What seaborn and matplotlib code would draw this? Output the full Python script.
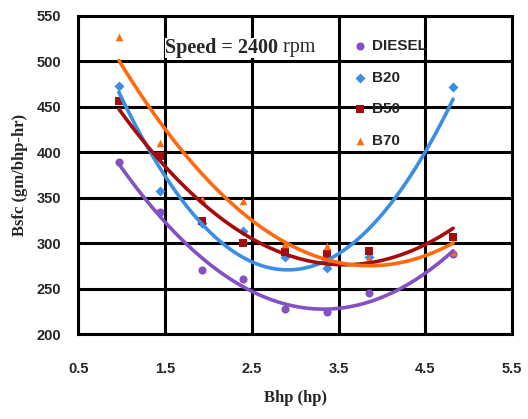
import numpy as np
import pandas as pd
import matplotlib
matplotlib.use('Agg')
import matplotlib.pyplot as plt
import seaborn as sns

# Brake power (hp) at each test point
bhp = [0.97, 1.44, 1.93, 2.40, 2.88, 3.37, 3.85, 4.82]

# Bsfc (gm/bhp-hr) for each fuel blend
diesel = [389, 334, 271, 261, 228, 225, 246, 288]
b20 = [473, 358, 322, 314, 285, 273, 285, 472]
b50 = [456, 396, 325, 300, 291, 288, 292, 307]
b70 = [527, 410, 349, 347, 299, 297, 283, 291]

fuels = ['DIESEL', 'B20', 'B50', 'B70']
series = [diesel, b20, b50, b70]
colors = ['#8450C4', '#3A8EE6', '#A50D0D', '#FF6A0E']
markers = ['o', 'D', 's', '^']
msizes = [34, 26, 40, 30]

sns.set_style('white')
plt.rcParams['font.family'] = ['Liberation Sans', 'DejaVu Sans']

fig = plt.figure(figsize=(5.28, 4.19), dpi=100)
ax = fig.add_axes([0.148, 0.202, 0.822, 0.760])

handles = []
for name, vals, c, m, s in zip(fuels, series, colors, markers, msizes):
    df = pd.DataFrame({'Bhp': bhp, 'Bsfc': vals})
    sns.regplot(data=df, x='Bhp', y='Bsfc', order=2, ci=None, ax=ax,
                marker=m, color=c,
                scatter_kws={'s': s, 'alpha': 1, 'linewidths': 0, 'zorder': 3},
                line_kws={'lw': 2.6, 'zorder': 4})
    handles.append(ax.collections[-1])

ax.set_xlim(0.5, 5.5)
ax.set_ylim(200, 550)
ax.set_xticks(np.arange(0.5, 5.6, 1.0))
ax.set_yticks(np.arange(200, 551, 50))
ax.grid(True, color='black', lw=2.2, zorder=1)
ax.set_axisbelow(True)
for sp in ax.spines.values():
    sp.set_color('black')
    sp.set_linewidth(2.2)
ax.tick_params(axis='both', direction='out', length=6, width=2, color='black',
               labelsize=10.5, pad=6)
for lab in ax.get_xticklabels() + ax.get_yticklabels():
    lab.set_fontweight('bold')
ax.tick_params(axis='x', pad=14)

ax.set_xlabel('Bhp (hp)', fontsize=12, fontweight='bold',
              family=['Liberation Serif'], labelpad=10)
ax.set_ylabel('Bsfc (gm/bhp-hr)', fontsize=12, fontweight='bold',
              family=['Liberation Serif'], labelpad=6)

speed = ax.text(0.2, 0.9, 'Speed = 2400', transform=ax.transAxes, fontsize=14.5,
                fontweight='bold', family=['Liberation Serif'], va='center',
                ha='left', bbox=dict(facecolor='white', edgecolor='none', pad=0),
                zorder=5)
ax.annotate(' rpm', xy=(1, 0.5), xycoords=speed, fontsize=14.5,
            family=['Liberation Serif'], va='center', ha='left', zorder=5)

leg = ax.legend(handles, fuels, loc='upper left', bbox_to_anchor=(0.597, 0.97),
                frameon=False, handletextpad=0.2, labelspacing=1.15,
                handlelength=1.2, prop={'weight': 'bold', 'size': 11})

fig.savefig('out.png', dpi=100)
